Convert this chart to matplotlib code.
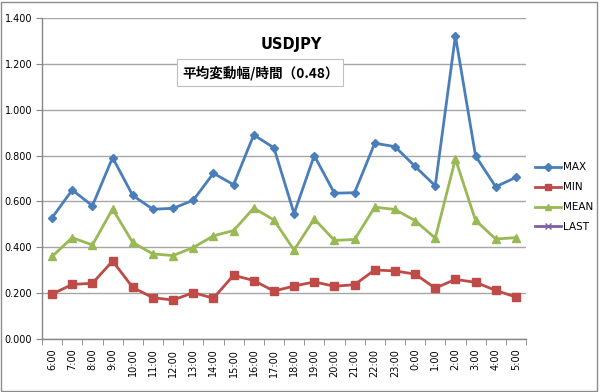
import matplotlib
matplotlib.use("Agg")
import matplotlib.pyplot as plt
import numpy as np
from matplotlib.patches import Rectangle

plt.rcParams['font.family'] = ['Noto Sans CJK JP', 'DejaVu Sans']

hours = ["6:00", "7:00", "8:00", "9:00", "10:00", "11:00", "12:00", "13:00", "14:00",
         "15:00", "16:00", "17:00", "18:00", "19:00", "20:00", "21:00", "22:00", "23:00",
         "0:00", "1:00", "2:00", "3:00", "4:00", "5:00"]
max_values = [0.529, 0.650, 0.581, 0.791, 0.626, 0.566, 0.570, 0.605, 0.723, 0.673, 0.890, 0.834,
              0.547, 0.800, 0.636, 0.638, 0.854, 0.839, 0.753, 0.668, 1.322, 0.798, 0.664, 0.705]
min_values = [0.196, 0.238, 0.243, 0.340, 0.225, 0.180, 0.170, 0.202, 0.178, 0.278, 0.255, 0.209,
              0.231, 0.249, 0.230, 0.237, 0.301, 0.297, 0.283, 0.222, 0.260, 0.247, 0.212, 0.183]
mean_values = [0.360, 0.442, 0.410, 0.567, 0.421, 0.371, 0.364, 0.399, 0.450, 0.473, 0.571, 0.519,
               0.388, 0.524, 0.430, 0.434, 0.575, 0.565, 0.516, 0.440, 0.785, 0.517, 0.436, 0.442]
last_values = []
title = "USDJPY"
note = "平均変動幅/時間（0.48）"
yticks = [0.0, 0.2, 0.4, 0.6, 0.8, 1.0, 1.2, 1.4]

fig = plt.figure(figsize=(6.0, 3.92), dpi=100)
W, H = 600, 392
ax = fig.add_axes([42 / W, 1 - 339 / H, (526 - 42) / W, (339 - 18) / H])

x = np.arange(len(hours))
lw = 2.0
ax.plot(x, max_values, color='#4A7EBB', lw=lw, marker='D', ms=4.2, label='MAX', zorder=5)
ax.plot(x, min_values, color='#BE4B48', lw=lw, marker='s', ms=5.2, label='MIN', zorder=5)
ax.plot(x, mean_values, color='#98B954', lw=lw, marker='^', ms=5.5, label='MEAN', zorder=5)
ax.plot(last_values, last_values, color='#7D60A0', lw=lw, marker='x', ms=5, label='LAST', zorder=5)

ax.set_xlim(-0.5, len(hours) - 0.5)
ax.set_ylim(0, 1.4)
ax.set_yticks(yticks)
ax.set_yticklabels([f"{v:.3f}" for v in yticks], fontsize=7, family='DejaVu Sans')
ax.tick_params(axis='y', length=4, color='#868686', pad=3)
ax.set_xticks(x)
ax.set_xticklabels(hours, rotation=90, fontsize=7, family='DejaVu Sans')
ax.set_xticks(np.arange(-0.5, len(hours), 1), minor=True)
ax.tick_params(axis='x', which='major', length=0, pad=7)
ax.tick_params(axis='x', which='minor', length=4, color='#868686')
ax.grid(axis='y', color='#A6A6A6', lw=1.0)
ax.set_axisbelow(True)
for s in ['top', 'right']:
    ax.spines[s].set_visible(False)
for s in ['left', 'bottom']:
    ax.spines[s].set_color('#868686')
    ax.spines[s].set_linewidth(1.0)

fig.text(291 / W, 1 - 44 / H, title, ha='center', va='center', fontsize=10.5, fontweight='bold',
         family='DejaVu Sans')
fig.patches.append(Rectangle((177 / W, 1 - 86 / H), (343 - 177) / W, (86 - 59) / H,
                             transform=fig.transFigure, fc='white', ec='#BFBFBF', lw=0.8))
fig.text(261 / W, 1 - 73 / H, note, ha='center', va='center', fontsize=9.8, fontweight='bold')

leg = fig.legend(loc='upper left', bbox_to_anchor=(526 / W, 1 - 153 / H), frameon=False,
                 handlelength=2.5, labelspacing=0.95, handletextpad=0.15,
                 prop={'family': 'DejaVu Sans', 'size': 7.5})
for h in leg.legend_handles:
    h.set_markersize(4)

fig.patches.append(Rectangle((1 / W, 1 / H), 1 - 4 / W, 1 - 3 / H, transform=fig.transFigure,
                             fill=False, ec='#8C8C8C', lw=1.0))

fig.savefig('out.png', dpi=100)
